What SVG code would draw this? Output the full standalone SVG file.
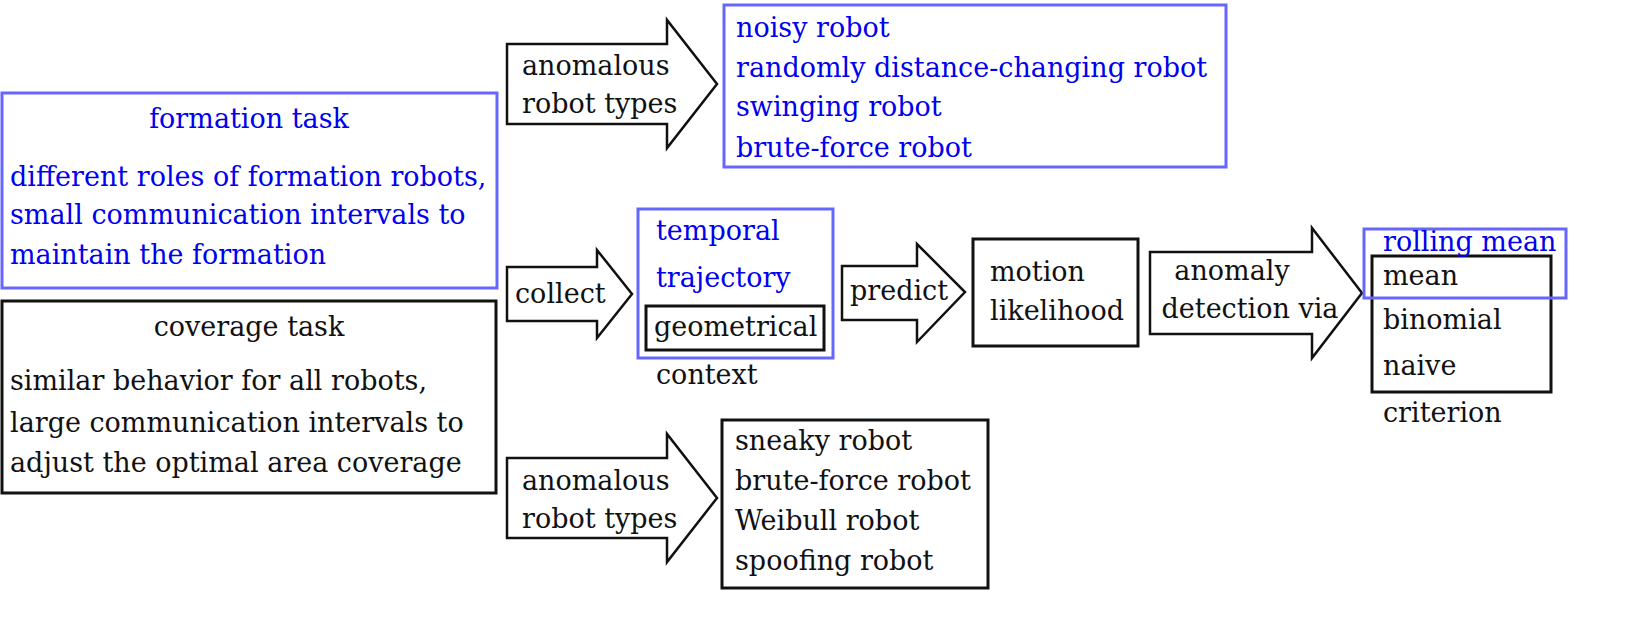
<svg xmlns="http://www.w3.org/2000/svg" width="1642" height="617" viewBox="0 0 1642 617">
<style>
text{font-family:"DejaVu Serif","Liberation Serif",serif;font-size:27px;fill:#111}
.b{fill:#0000ee}
.bb{fill:none;stroke:#6666ff;stroke-width:3}
.kb{fill:none;stroke:#111;stroke-width:3}
.ar{fill:#fff;stroke:#111;stroke-width:2.5;stroke-linejoin:miter}
.c{text-anchor:middle}
</style>
<rect width="1642" height="617" fill="#fff"/>
<g id="connectors">
<polygon class="ar" points="507,44 667,44 667,20 717,84 667,148 667,124 507,124"/>
<polygon class="ar" points="507,267 597,267 597,250 632,294 597,338 597,321 507,321"/>
<polygon class="ar" points="842,266 917,266 917,244 965,292 917,342 917,320 842,320"/>
<polygon class="ar" points="1150,252 1312,252 1312,228 1362,293 1312,358 1312,334 1150,334"/>
<polygon class="ar" points="507,458 667,458 667,434 717,498 667,562 667,538 507,538"/>
<text x="522" y="75">anomalous</text><text x="522" y="113">robot types</text>
<text x="515" y="303">collect</text>
<text x="850" y="300">predict</text>
<text class="c" x="1232" y="280">anomaly</text><text class="c" x="1250" y="318" font-size="26">detection via</text>
<text x="522" y="490">anomalous</text><text x="522" y="528">robot types</text>
</g>
<g id="formation">
<rect class="bb" x="2" y="93" width="495" height="195"/>
<text class="b c" x="249" y="128">formation task</text>
<text class="b" x="10" y="186">different roles of formation robots,</text>
<text class="b" x="10" y="224">small communication intervals to</text>
<text class="b" x="10" y="264">maintain the formation</text>
</g>
<g id="coverage">
<rect class="kb" x="2" y="301" width="494" height="192"/>
<text class="c" x="249" y="336">coverage task</text>
<text x="10" y="390">similar behavior for all robots,</text>
<text x="10" y="432">large communication intervals to</text>
<text x="10" y="472">adjust the optimal area coverage</text>
</g>
<g id="formation-types">
<rect class="bb" x="724" y="5" width="502" height="162"/>
<text class="b" x="736" y="37">noisy robot</text>
<text class="b" x="736" y="77">randomly distance-changing robot</text>
<text class="b" x="736" y="116">swinging robot</text>
<text class="b" x="736" y="157">brute-force robot</text>
</g>
<g id="context">
<rect class="bb" x="638" y="209" width="195" height="149"/>
<text class="b" x="656" y="240">temporal</text>
<text class="b" x="656" y="287">trajectory</text>
<rect class="kb" x="646" y="306" width="178" height="44"/>
<text x="654" y="336">geometrical</text>
<text x="656" y="384">context</text>
</g>
<g id="likelihood">
<rect class="kb" x="973" y="239" width="165" height="107"/>
<text x="990" y="281">motion</text>
<text x="990" y="320">likelihood</text>
</g>
<g id="criterion">
<rect class="kb" x="1372" y="256" width="179" height="136"/>
<rect class="bb" x="1364" y="229" width="202" height="69"/>
<text class="b" x="1383" y="251">rolling mean</text>
<text x="1383" y="285">mean</text>
<text x="1383" y="329">binomial</text>
<text x="1383" y="375">naive</text>
<text x="1383" y="422">criterion</text>
</g>
<g id="coverage-types">
<rect class="kb" x="722" y="420" width="266" height="168"/>
<text x="735" y="450">sneaky robot</text>
<text x="735" y="490">brute-force robot</text>
<text x="735" y="530">Weibull robot</text>
<text x="735" y="570">spoofing robot</text>
</g>
</svg>
